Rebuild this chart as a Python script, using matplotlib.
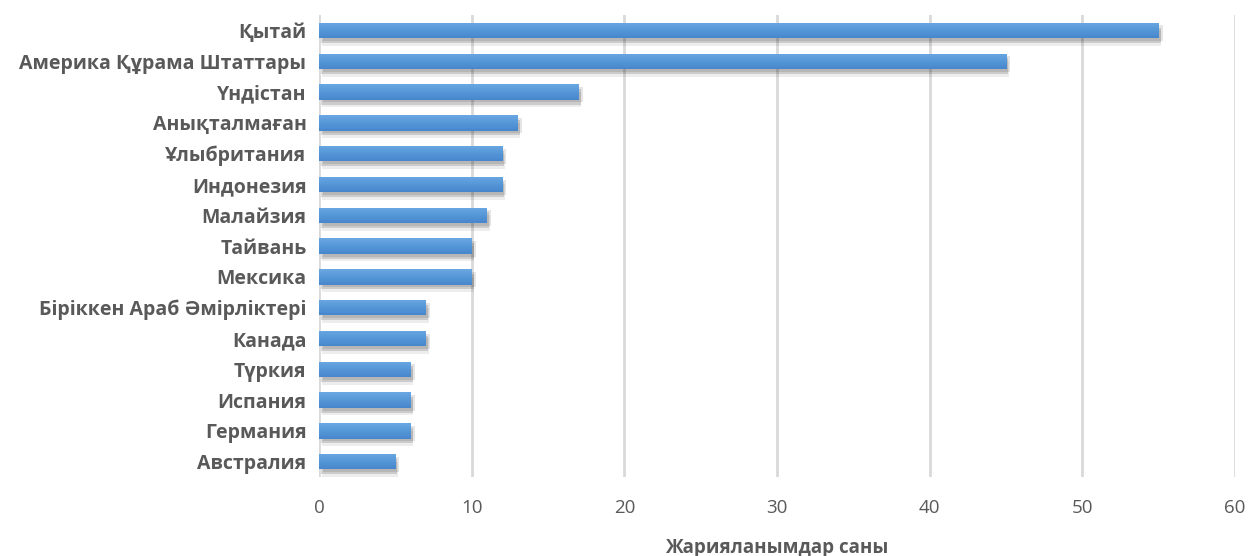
import matplotlib
matplotlib.use("Agg")
import matplotlib.pyplot as plt
import matplotlib.patheffects as pe
import numpy as np
from matplotlib.colors import LinearSegmentedColormap

plt.rcParams['font.family'] = ['Open Sans', 'DejaVu Sans']

countries = ["Қытай", "Америка Құрама Штаттары", "Үндістан", "Анықталмаған",
             "Ұлыбритания", "Индонезия", "Малайзия", "Тайвань", "Мексика",
             "Біріккен Араб Әмірліктері", "Канада", "Түркия", "Испания",
             "Германия", "Австралия"]
counts = [55, 45, 17, 13, 12, 12, 11, 10, 10, 7, 7, 6, 6, 6, 5]
xticks = [0, 10, 20, 30, 40, 50, 60]
xlabel = "Жарияланымдар саны"

fig = plt.figure(figsize=(12.48, 5.56), dpi=100)
ax = fig.add_axes([0.2556, 0.142, 0.734, 0.831])

ypos = list(range(len(countries)))
bars = ax.barh(ypos, counts, height=0.5, color="#5597d8", zorder=3)
cmap = LinearSegmentedColormap.from_list("g", ["#6ba8e2", "#5597d8", "#4886cc"])
grad = np.linspace(0, 1, 64).reshape(-1, 1)
for b in bars:
    b.set_path_effects([pe.SimplePatchShadow(offset=(2, -5.5), shadow_rgbFace="#000000", alpha=0.07),
                        pe.SimplePatchShadow(offset=(1.5, -3.5), shadow_rgbFace="#000000", alpha=0.14),
                        pe.SimplePatchShadow(offset=(3, -2), shadow_rgbFace="#000000", alpha=0.10),
                        pe.Normal()])
    x0, y0, w, h = b.get_x(), b.get_y(), b.get_width(), b.get_height()
    im = ax.imshow(grad, cmap=cmap, aspect="auto", extent=(x0, x0 + w, y0 + h, y0),
                   zorder=4, interpolation="bicubic")
    im.set_clip_path(b)

ax.set_xlim(0, 60)
ax.set_ylim(len(countries) - 0.5, -0.5)
ax.set_xticks(xticks)
ax.set_xticklabels([str(t) for t in xticks], fontsize=13.5, color="#595959")
ax.set_yticks(ypos)
ax.set_yticklabels(countries, fontsize=14, fontweight="bold", color="#595959")
ax.tick_params(axis="x", length=0, pad=16)
ax.tick_params(axis="y", length=0, pad=9)
ax.grid(axis="x", color="#d9d9d9", linewidth=2, zorder=0)
for s in ax.spines.values():
    s.set_visible(False)
ax.set_xlabel(xlabel, fontsize=13.5, fontweight="bold", color="#595959", labelpad=15)

fig.savefig("out.png", dpi=100, facecolor="white")
